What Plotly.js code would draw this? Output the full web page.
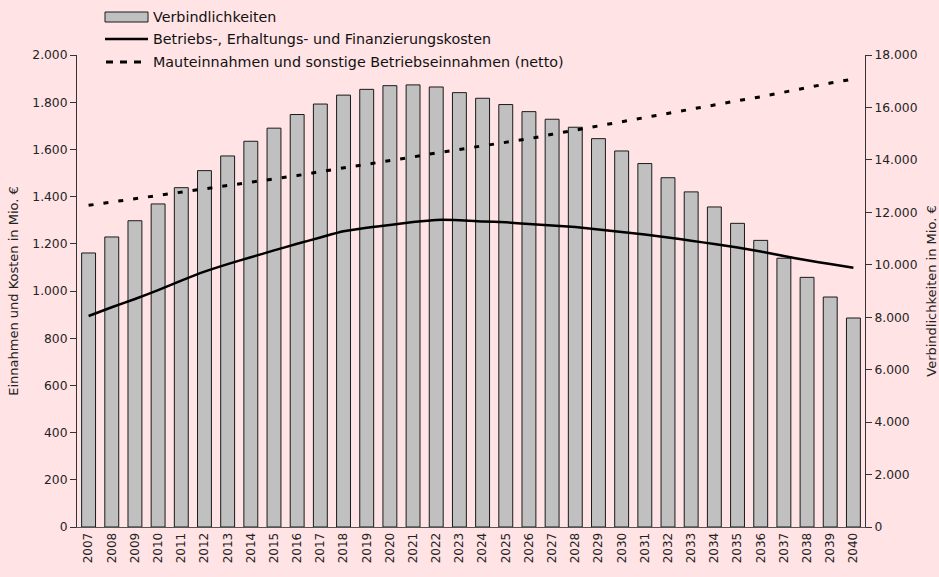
<!DOCTYPE html>
<html>
<head>
<meta charset="utf-8">
<script src="https://cdn.plot.ly/plotly-3.0.1.min.js"></script>
<style>html,body{margin:0;padding:0;background:#FFE3E5;}#chart{width:939px;height:577px;}</style>
</head>
<body>
<div id="chart"></div>
<script>
const years = ["2007","2008","2009","2010","2011","2012","2013","2014","2015","2016","2017","2018","2019","2020","2021","2022","2023","2024","2025","2026","2027","2028","2029","2030","2031","2032","2033","2034","2035","2036","2037","2038","2039","2040"];
const verbindlichkeiten = [10450,11060,11680,12320,12940,13590,14150,14710,15210,15730,16130,16470,16690,16830,16860,16780,16565,16350,16110,15840,15550,15245,14810,14340,13860,13320,12780,12205,11580,10930,10250,9520,8770,7970];
const kosten = [894,931,966,1004,1044,1082,1114,1143,1172,1200,1227,1253,1268,1280,1292,1301,1300,1295,1291,1284,1278,1271,1261,1250,1239,1227,1213,1199,1184,1167,1148,1130,1114,1099];
const einnahmen = [1363,1377,1390,1403,1417,1432,1448,1462,1476,1489,1506,1521,1537,1552,1568,1585,1600,1612,1628,1645,1664,1682,1701,1719,1737,1754,1772,1789,1806,1823,1843,1862,1881,1898];
const seriesNames = ['Verbindlichkeiten','Betriebs-, Erhaltungs- und Finanzierungskosten','Mauteinnahmen und sonstige Betriebseinnahmen (netto)'];

const FONT = "DejaVu Sans, sans-serif";
const W = 939, H = 577, M = {l:77, r:74, t:55, b:50};
const PW = W - M.l - M.r, PH = H - M.t - M.b;
const px = x => (x - M.l) / PW;
const py = y => (H - M.b - y) / PH;

const traces = [
  {type:'bar', name:seriesNames[0], x:years, y:verbindlichkeiten, yaxis:'y',
   marker:{color:'#C0C0C0', line:{color:'#1a1a1a', width:1}}},
  {type:'scatter', mode:'lines', name:seriesNames[1], x:years, y:kosten, yaxis:'y2',
   line:{color:'#000', width:2.5, shape:'spline', smoothing:0.6}},
  {type:'scatter', mode:'lines', name:seriesNames[2], x:years, y:einnahmen, yaxis:'y2',
   line:{color:'#000', width:3, dash:'5px,10px'}}
];

// manual legend (symbols + text) placed above the plot
const rowsY = [17, 39, 62];
const shapes = [
  {type:'rect', xref:'paper', yref:'paper', x0:px(105), x1:px(148), y0:py(22), y1:py(12),
   fillcolor:'#C0C0C0', line:{color:'#1a1a1a', width:1}},
  {type:'line', xref:'paper', yref:'paper', x0:px(105), x1:px(148), y0:py(rowsY[1]), y1:py(rowsY[1]),
   line:{color:'#000', width:2.5}},
  {type:'line', xref:'paper', yref:'paper', x0:px(106), x1:px(142), y0:py(rowsY[2]), y1:py(rowsY[2]),
   line:{color:'#000', width:3, dash:'7px,7px'}}
];
const annotations = seriesNames.map((n, i) => ({
  text:n, xref:'paper', yref:'paper', x:px(151), y:py(rowsY[i]), xanchor:'left', yanchor:'middle',
  showarrow:false, font:{family:FONT, size:14.3, color:'#111'}
}));

const layout = {
  width:W, height:H,
  paper_bgcolor:'#FFE3E5', plot_bgcolor:'#FFE3E5',
  separators:',.',
  font:{family:FONT, size:12, color:'#222'},
  margin:M,
  showlegend:false,
  shapes:shapes, annotations:annotations,
  bargap:0.4,
  xaxis:{type:'category', tickangle:-90, showgrid:false, showline:true, linecolor:'#555', linewidth:1,
         ticks:'', tickfont:{family:FONT, size:12, color:'#222'}},
  yaxis:{side:'right', range:[0,18000], dtick:2000, tickformat:',d', showgrid:false, zeroline:false,
         showline:true, linecolor:'#333', linewidth:1, ticks:'outside', ticklen:6, tickcolor:'#333',
         tickfont:{family:FONT, size:12.3, color:'#222'},
         title:{text:'Verbindlichkeiten in Mio. €', font:{family:FONT, size:13, color:'#222'}, standoff:12}},
  yaxis2:{overlaying:'y', side:'left', range:[0,2000], dtick:200, tickformat:',d', showgrid:false, zeroline:false,
          showline:true, linecolor:'#333', linewidth:1, ticks:'outside', ticklen:6, tickcolor:'#333',
          tickfont:{family:FONT, size:12.3, color:'#222'},
          title:{text:'Einnahmen und Kosten in Mio. €', font:{family:FONT, size:13, color:'#222'}, standoff:10}}
};
Plotly.newPlot('chart', traces, layout, {displayModeBar:false, staticPlot:true});
</script>
</body>
</html>
